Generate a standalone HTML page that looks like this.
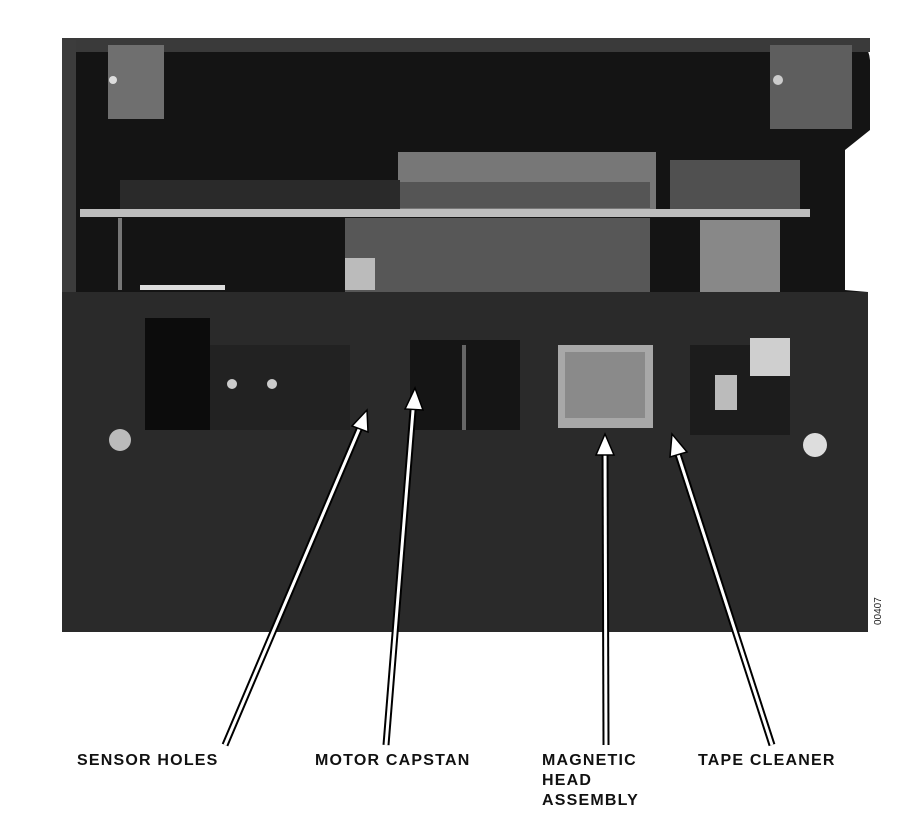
<!DOCTYPE html>
<html><head><style>body{margin:0;background:#fff}svg{display:block}</style></head><body>
<svg width="924" height="840" viewBox="0 0 924 840" xmlns="http://www.w3.org/2000/svg" font-family="Liberation Sans, sans-serif">
<rect width="924" height="840" fill="#fff"/>
<path d="M66 38 L850 38 Q868 40 870 60 L870 130 L845 150 L845 290 L868 292 L868 632 L62 632 L62 40 Z" fill="#141414"/>
<rect x="62" y="38" width="808" height="14" fill="#3a3a3a"/>
<rect x="62" y="40" width="14" height="592" fill="#3c3c3c"/>
<rect x="108" y="45" width="56" height="74" fill="#6f6f6f"/>
<circle cx="113" cy="80" r="4" fill="#ddd"/>
<rect x="770" y="45" width="82" height="84" fill="#5e5e5e"/>
<circle cx="778" cy="80" r="5" fill="#ccc"/>
<rect x="398" y="152" width="258" height="58" fill="#777"/>
<rect x="400" y="182" width="250" height="26" fill="#555"/>
<rect x="120" y="180" width="280" height="30" fill="#2a2a2a"/>
<rect x="670" y="160" width="130" height="50" fill="#505050"/>
<rect x="80" y="209" width="730" height="8" fill="#bdbdbd"/>
<rect x="345" y="218" width="305" height="75" fill="#575757"/>
<rect x="345" y="258" width="30" height="32" fill="#bbb"/>
<rect x="700" y="220" width="80" height="72" fill="#888"/>
<rect x="140" y="285" width="85" height="5" fill="#ddd"/>
<rect x="118" y="218" width="4" height="72" fill="#777"/>
<rect x="62" y="292" width="806" height="340" fill="#2a2a2a"/>
<rect x="145" y="318" width="65" height="112" fill="#0c0c0c"/>
<rect x="210" y="345" width="140" height="85" fill="#222"/>
<circle cx="232" cy="384" r="5" fill="#ccc"/>
<circle cx="272" cy="384" r="5" fill="#ccc"/>
<rect x="410" y="340" width="110" height="90" fill="#151515"/>
<rect x="462" y="345" width="4" height="85" fill="#666"/>
<rect x="558" y="345" width="95" height="83" fill="#a8a8a8"/>
<rect x="565" y="352" width="80" height="66" fill="#8a8a8a"/>
<rect x="690" y="345" width="100" height="90" fill="#1c1c1c"/>
<rect x="750" y="338" width="40" height="38" fill="#cfcfcf"/>
<rect x="715" y="375" width="22" height="35" fill="#bbb"/>
<circle cx="120" cy="440" r="11" fill="#bbb"/>
<circle cx="815" cy="445" r="12" fill="#ddd"/>
<g stroke-linecap="butt" fill="none">
<g stroke="#000" stroke-width="7">
<line x1="225" y1="745" x2="363" y2="420"/><line x1="386" y1="745" x2="414" y2="398"/>
<line x1="606" y1="745" x2="605" y2="445"/><line x1="772" y1="745" x2="675" y2="445"/>
</g>
<g stroke="#fff" stroke-width="3">
<line x1="225" y1="745" x2="363" y2="420"/><line x1="386" y1="745" x2="414" y2="398"/>
<line x1="606" y1="745" x2="605" y2="445"/><line x1="772" y1="745" x2="675" y2="445"/>
</g>
</g>
<g fill="#fff" stroke="#000" stroke-width="1.5">
<polygon points="367,410 368,432 352,426"/>
<polygon points="415,388 423,410 405,409"/>
<polygon points="605,434 614,455 596,455"/>
<polygon points="672,434 687,452 670,457"/>
</g>
<g font-size="16" font-weight="bold" fill="#111" letter-spacing="1.2">
<text x="77" y="765">SENSOR HOLES</text>
<text x="315" y="765">MOTOR CAPSTAN</text>
<text x="542" y="765">MAGNETIC</text>
<text x="542" y="785">HEAD</text>
<text x="542" y="805">ASSEMBLY</text>
<text x="698" y="765">TAPE CLEANER</text>
</g>
<text x="0" y="0" font-size="10" fill="#222" transform="translate(881,625) rotate(-90)">00407</text>
</svg>
</body></html>
